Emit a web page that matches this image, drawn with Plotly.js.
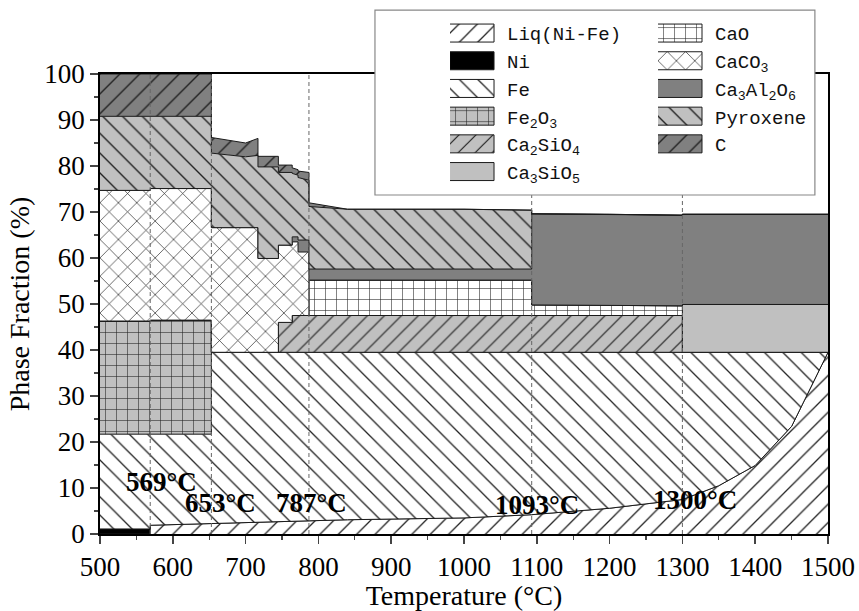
<!DOCTYPE html>
<html><head><meta charset="utf-8">
<script src="https://cdn.plot.ly/plotly-3.0.1.min.js"></script>
<style>html,body{margin:0;padding:0;background:#fff}</style>
</head><body><div id="chart" style="width:859px;height:611px"></div>
<script>
// Temperature grid (°C); repeated values mark step changes
const temperature = [500,569,569,653,653,700,717,717,745,745,764,764,772,772,787,787,840,1000,1093,1093,1200,1300,1300,1350,1400,1450,1500];

// Phase fractions (%) at each temperature, bottom to top of the stack
const liq       = [0,0,1.9,2.3,2.3,2.45,2.5,2.5,2.6,2.6,2.7,2.7,2.75,2.75,2.8,2.8,3.1,3.5,4.2,4.2,5.6,7.5,7.5,10.5,14.9,23.4,39.5];
const ni        = [1.1,1.1,0,0,0,0,0,0,0,0,0,0,0,0,0,0,0,0,0,0,0,0,0,0,0,0,0];
const fe        = [20.6,20.6,19.8,19.4,37.2,37.05,37.0,37.0,36.9,36.9,36.8,36.8,36.75,36.75,36.7,36.7,36.4,36.0,35.3,35.3,33.9,32.0,32.0,29.0,24.6,16.1,0];
const fe2o3     = [24.6,24.6,24.8,24.8,0,0,0,0,0,0,0,0,0,0,0,0,0,0,0,0,0,0,0,0,0,0,0];
const ca2sio4   = [0,0,0,0,0,0,0,0,0,6.5,6.5,8.0,8.0,8.0,8.0,8.0,8.0,8.0,8.0,8.0,8.0,8.0,0,0,0,0,0];
const cao       = [0,0,0,0,0,0,0,0,0,0,0,0,0,0,0,7.7,7.7,7.7,7.7,2.3,2.2,2.1,0,0,0,0,0];
const ca3sio5   = [0,0,0,0,0,0,0,0,0,0,0,0,0,0,0,0,0,0,0,0,0,0,10.4,10.4,10.4,10.4,10.4];
const caco3     = [28.4,28.4,28.6,28.6,27.1,27.1,27.1,20.4,20.4,16.8,16.8,16.0,16.0,13.8,13.8,0,0,0,0,0,0,0,0,0,0,0,0];
const ca3al2o6  = [0,0,0,0,0,0,0,0,0,0,0,1.1,1.1,2.6,2.6,2.4,2.4,2.4,2.4,19.8,19.8,19.7,19.6,19.6,19.6,19.6,19.6];
const pyroxene  = [16.1,16.1,15.7,15.7,16.2,15.4,15.7,19.9,19.9,15.8,15.8,13.8,13.4,13.6,13.0,13.6,13.0,13.0,12.8,0,0,0,0,0,0,0,0];
const carbon    = [9.2,9.2,9.2,9.2,3.4,3.0,3.7,2.3,2.3,1.6,1.6,1.2,1.2,1.4,1.7,0.8,0,0,0,0,0,0,0,0,0,0,0];

const phaseNames = ['Liq(Ni-Fe)','Ni','Fe','Fe<sub>2</sub>O<sub>3</sub>','Ca<sub>2</sub>SiO<sub>4</sub>','CaO','Ca<sub>3</sub>SiO<sub>5</sub>','CaCO<sub>3</sub>','Ca<sub>3</sub>Al<sub>2</sub>O<sub>6</sub>','Pyroxene','C'];
const phaseValues = [liq, ni, fe, fe2o3, ca2sio4, cao, ca3sio5, caco3, ca3al2o6, pyroxene, carbon];
const transitionTemps = [569, 653, 787, 1093, 1300];

// styles
const LG = '#c0c0c0', DG = '#808080', W = '#ffffff';
const styles = [
  {bg: W,  shape: '/',  size: 13, legend: 'legend'},
  {bg: '#000', shape: '', legend: 'legend'},
  {bg: W,  shape: '\\', size: 13, legend: 'legend'},
  {bg: LG, shape: '+',  size: 11, legend: 'legend'},
  {bg: LG, shape: '/',  size: 12, legend: 'legend'},
  {bg: W,  shape: '+',  size: 11, legend: 'legend2'},
  {bg: LG, shape: '',   legend: 'legend'},
  {bg: W,  shape: 'x',  size: 13, legend: 'legend2'},
  {bg: DG, shape: '',   legend: 'legend2'},
  {bg: LG, shape: '\\', size: 14, legend: 'legend2'},
  {bg: DG, shape: '/',  size: 14, legend: 'legend2'}
];

const cum = temperature.map(() => 0);
const traces = phaseNames.map((name, k) => {
  const vals = phaseValues[k];
  const y = vals.map((v, i) => (cum[i] += v));
  const s = styles[k];
  const t = {
    type: 'scatter', mode: 'lines', x: temperature, y: y.slice(), name: name,
    line: {color: '#1a1a1a', width: 1, shape: 'linear'},
    fill: k === 0 ? 'tozeroy' : 'tonexty',
    fillcolor: s.bg, legend: s.legend, hoverinfo: 'skip'
  };
  if (s.shape) t.fillpattern = {shape: s.shape, size: s.size, solidity: 0.1, fgcolor: '#222', bgcolor: s.bg, fillmode: 'replace'};
  return t;
});

const serif = '"Liberation Serif", "Times New Roman", serif';
const mono = '"Liberation Mono", "Courier New", monospace';
const shapes = transitionTemps.map(T => ({
  type: 'line', xref: 'x', yref: 'y', x0: T, x1: T, y0: 0, y1: 100,
  line: {color: '#666', width: 1, dash: '4px,3px'}, layer: 'above'
}));
shapes.push({type: 'rect', xref: 'paper', yref: 'paper', x0: 0.3777, x1: 0.982, y0: 0.737, y1: 1.139,
  fillcolor: '#fff', line: {color: '#888', width: 1.2}, layer: 'above'});

const labelPos = [[585, 11.4], [665, 6.8], [790, 6.8], [1100, 6.2], [1317, 7.5]];
const annotations = transitionTemps.map((T, i) => ({
  x: labelPos[i][0], y: labelPos[i][1], xref: 'x', yref: 'y', showarrow: false,
  text: '<b>' + T + '°C</b>', font: {family: serif, size: 27, color: '#000'}
}));

const legendCommon = {
  bgcolor: 'rgba(0,0,0,0)', borderwidth: 0, traceorder: 'normal', itemwidth: 47,
  font: {family: mono, size: 19, color: '#111'},
  yanchor: 'top', xanchor: 'left', orientation: 'v', tracegroupgap: 0, itemclick: false
};

const layout = {
  width: 859, height: 611,
  margin: {l: 100, r: 31, t: 74, b: 76.5, autoexpand: false},
  paper_bgcolor: '#fff', plot_bgcolor: '#fff',
  font: {family: serif, color: '#000'},
  showlegend: true,
  legend: Object.assign({}, legendCommon, {x: 0.4808, y: 1.13}),
  legend2: Object.assign({}, legendCommon, {x: 0.7665, y: 1.13}),
  xaxis: {
    range: [500, 1500], dtick: 100, tick0: 500, ticks: 'outside', ticklen: 8, tickwidth: 1.5,
    showline: true, linewidth: 1.8, linecolor: '#000', mirror: true, showgrid: false, zeroline: false,
    minor: {dtick: 50, ticks: 'outside', ticklen: 4, tickwidth: 1.2, showgrid: false},
    tickfont: {family: serif, size: 27, color: '#000'},
    title: {text: 'Temperature (°C)', font: {family: serif, size: 28, color: '#000'}, standoff: 8}
  },
  yaxis: {
    range: [0, 100], dtick: 10, ticks: 'outside', ticklen: 8, tickwidth: 1.5,
    showline: true, linewidth: 1.8, linecolor: '#000', mirror: true, showgrid: false, zeroline: false,
    minor: {dtick: 5, ticks: 'outside', ticklen: 4, tickwidth: 1.2, showgrid: false},
    tickfont: {family: serif, size: 27, color: '#000'},
    title: {text: 'Phase Fraction (%)', font: {family: serif, size: 28, color: '#000'}, standoff: 6}
  },
  shapes: shapes,
  annotations: annotations
};

Plotly.newPlot('chart', traces, layout, {displayModeBar: false, staticPlot: true}).then(gd => {
  // enlarge legend swatches (both legend columns) to framed boxes like the original figure
  gd.querySelectorAll('.legendfill path').forEach(p => p.setAttribute('d', 'M-3,-9h47v18h-47z'));
  gd.querySelectorAll('.legendlines path').forEach(p => {
    p.setAttribute('d', 'M-3,-9h47v18h-47z');
    p.style.fill = 'none';
  });
});
</script>
</body></html>
